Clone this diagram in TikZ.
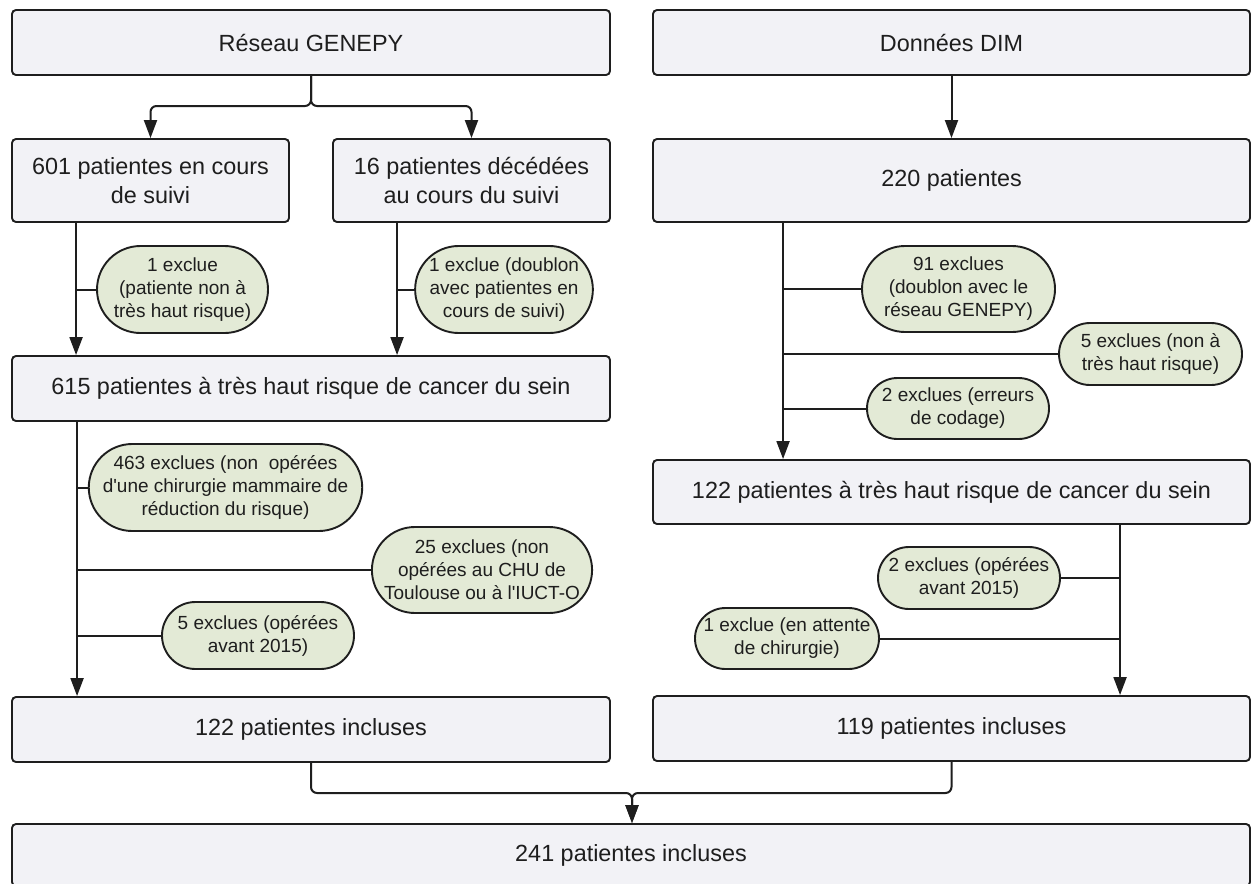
\documentclass[tikz,border=0pt]{standalone}
\usepackage{fontspec}
\setmainfont{Liberation Sans}
\usetikzlibrary{arrows.meta,shapes.misc,calc}
\definecolor{boxfill}{RGB}{242,242,246}
\definecolor{ovalfill}{RGB}{227,234,214}
\definecolor{ink}{RGB}{30,30,30}
\tikzset{
 box/.style={draw=ink, fill=boxfill, line width=1.9pt, rounded corners=4pt, inner sep=0pt, align=center, text=ink, font=\fontsize{23.4pt}{29pt}\selectfont},
 oval/.style={rounded rectangle, draw=ink, fill=ovalfill, line width=1.9pt, inner sep=0pt, align=center, text=ink, font=\fontsize{19pt}{23pt}\selectfont},
 conn/.style={draw=ink, line width=2pt},
 arr/.style={conn, -{Triangle[width=13pt,length=18pt]}},
}
\begin{document}
\begin{tikzpicture}[x=1pt,y=-1pt]
\useasboundingbox (0,0) rectangle (1252,883);
\clip (0,0) rectangle (1252,883);
\fill[white] (0,0) rectangle (1252,883);
% main boxes
\node[box, minimum width=598pt, minimum height=65pt] (gen) at (311,42.5) {Réseau GENEPY};
\node[box, minimum width=597pt, minimum height=65pt] (dim) at (951.5,42.5) {Données DIM};
\node[box, minimum width=277pt, minimum height=83pt] (s601) at (150.5,180.5) {601 patientes en cours\\de suivi};
\node[box, minimum width=277pt, minimum height=83pt] (s16) at (471.5,180.5) {16 patientes décédées\\au cours du suivi};
\node[box, minimum width=597pt, minimum height=83pt] (s220) at (951.5,180.5) {220 patientes};
\node[box, minimum width=598pt, minimum height=65pt] (s615) at (311,388.5) {615 patientes à très haut risque de cancer du sein};
\node[box, minimum width=597pt, minimum height=64pt] (r122) at (951.5,492) {122 patientes à très haut risque de cancer du sein};
\node[box, minimum width=598pt, minimum height=65pt] (inc122) at (311,729.5) {122 patientes incluses};
\node[box, minimum width=597pt, minimum height=65pt] (inc119) at (951.5,728.5) {119 patientes incluses};
\node[box, minimum width=1238pt, minimum height=62pt] (tot) at (631,855) {241 patientes incluses};
% ovals
\node[oval, minimum width=171pt, minimum height=87pt] (ex1) at (182.5,289.5) {1 exclue\\(patiente non à\\très haut risque)};
\node[oval, minimum width=170pt, minimum height=87pt] (ex2) at (504,289.5) {1 exclue (doublon\\avec patientes en\\cours de suivi)};
\node[oval, minimum width=257pt, minimum height=87pt] (ex463) at (225.5,487.5) {463 exclues (non\ \ opérées\\d\textquotesingle une chirurgie mammaire de\\réduction du risque)};
\node[oval, minimum width=214pt, minimum height=86pt] (ex25) at (482,570) {25 exclues (non\\opérées au CHU de\\Toulouse ou à l\textquotesingle IUCT-O};
\node[oval, minimum width=192pt, minimum height=67pt] (ex5) at (258,635.5) {5 exclues (opérées\\avant 2015)};
\node[oval, minimum width=193pt, minimum height=86pt] (ex91) at (958.5,289) {91 exclues\\(doublon avec le\\réseau GENEPY)};
\node[oval, minimum width=183pt, minimum height=62pt] (ex5n) at (1150.5,354) {5 exclues (non à\\très haut risque)};
\node[oval, minimum width=182pt, minimum height=61pt] (ex2e) at (958,408.5) {2 exclues (erreurs\\de codage)};
\node[oval, minimum width=182pt, minimum height=62pt] (ex2o) at (969,578) {2 exclues (opérées\\avant 2015)};
\node[oval, minimum width=184pt, minimum height=61pt] (ex1a) at (787,638.5) {1 exclue (en attente\\de chirurgie)};
% top fork
\coordinate (f) at (311,106);
\draw[arr, rounded corners=6pt] (gen.south) -- (f) -| (s601.north);
\draw[arr, rounded corners=6pt] (gen.south) -- (f) -| (s16.north);
\draw[arr] (dim.south) -- (s220.north);
% left column lines
\coordinate (lA) at ([xshift=65pt]s601.south west);
\draw[arr] (lA) -- (lA |- s615.north);
\draw[conn] (ex1.west) -- (ex1.west -| lA);
\coordinate (lB) at ([xshift=65pt]s16.south west);
\draw[arr] (lB) -- (lB |- s615.north);
\draw[conn] (ex2.west) -- (ex2.west -| lB);
\coordinate (lC) at ([xshift=66pt]s615.south west);
\draw[arr] (lC) -- (lC |- inc122.north);
\draw[conn] (ex463.west) -- (ex463.west -| lC);
\draw[conn] (ex25.west) -- (ex25.west -| lC);
\draw[conn] (ex5.west) -- (ex5.west -| lC);
% right column lines
\coordinate (rA) at ([xshift=131pt]s220.south west);
\draw[arr] (rA) -- (rA |- r122.north);
\draw[conn] (ex91.west) -- (ex91.west -| rA);
\draw[conn] (ex5n.west) -- (ex5n.west -| rA);
\draw[conn] (ex2e.west) -- (ex2e.west -| rA);
\coordinate (rB) at ([xshift=468pt]r122.south west);
\draw[arr] (rB) -- (rB |- inc119.north);
\draw[conn] (ex2o.east) -- (ex2o.east -| rB);
\draw[conn] (ex1a.east) -- (ex1a.east -| rB);
% merge
\coordinate (m) at (632,793);
\draw[arr, rounded corners=6pt] (inc122.south) |- (m) -- (m |- tot.north);
\draw[arr, rounded corners=6pt] (inc119.south) |- (m) -- (m |- tot.north);
\end{tikzpicture}
\end{document}
